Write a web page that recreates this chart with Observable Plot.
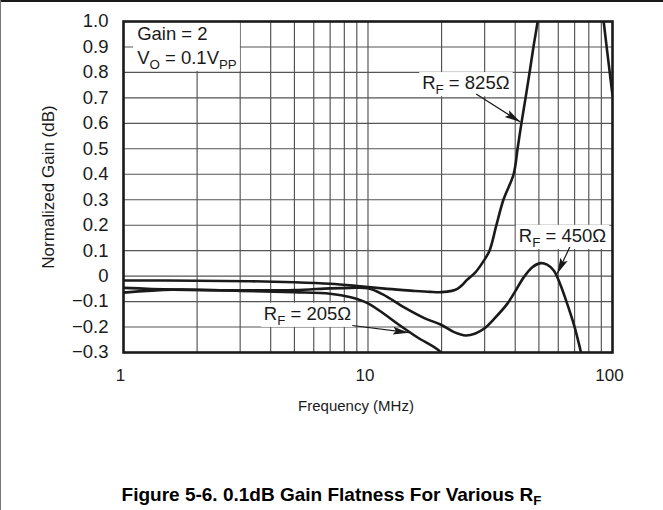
<!DOCTYPE html>
<html><head><meta charset="utf-8">
<script src="https://cdn.jsdelivr.net/npm/d3@7"></script>
<script src="https://cdn.jsdelivr.net/npm/@observablehq/plot@0.6"></script>
<style>
html,body{margin:0;padding:0;background:#fff;}
#wrap{position:relative;width:663px;height:510px;overflow:hidden;font-family:"Liberation Sans",Arial,Helvetica,sans-serif;}
#chart{position:absolute;left:0;top:0;}
#topline{position:absolute;left:0;top:0;width:663px;height:2px;background:#1a1a1a;}
#leftline{position:absolute;left:0;top:0;width:1px;height:510px;background:#777;}
#caption{position:absolute;left:0;width:663px;top:485px;text-align:center;font-weight:bold;font-size:19px;line-height:19px;color:#000;white-space:nowrap;}
#caption sub{font-size:0.7em;vertical-align:-0.28em;line-height:0;}
</style></head><body>
<div id="wrap"><div id="chart"></div><div id="topline"></div><div id="leftline"></div>
<div id="caption">Figure 5-6. 0.1dB Gain Flatness For Various R<sub>F</sub></div></div>
<script>
// ---- data (frequency in MHz, normalized gain in dB) ----
const freq825 = [1, 2, 3.3, 5, 7, 9.3, 12, 15, 18, 20, 22, 23.2, 24.3, 25.4, 27.5, 29.5, 31.4, 33.5, 35.8, 39.4, 40.9, 42.4, 44.1, 45.8, 47.5, 49.4, 55, 62, 70, 78, 86, 92, 100];
const gain825 = [-0.017, -0.018, -0.02, -0.024, -0.03, -0.04, -0.05, -0.057, -0.062, -0.063, -0.058, -0.05, -0.035, -0.015, 0.015, 0.055, 0.1, 0.2, 0.3, 0.4, 0.5, 0.6, 0.7, 0.8, 0.9, 1.0, 1.35, 1.65, 1.75, 1.6, 1.25, 1.0, 0.71];
const freq450 = [1, 1.6, 3, 5, 7, 8.5, 10, 11.5, 14, 17, 19.8, 22.5, 25.1, 27.5, 29.8, 33, 37.1, 40, 43.4, 47, 50.8, 54, 57.5, 61, 65.3, 70, 74, 77];
const gain450 = [-0.046, -0.053, -0.056, -0.055, -0.048, -0.046, -0.048, -0.072, -0.122, -0.165, -0.19, -0.22, -0.233, -0.225, -0.207, -0.165, -0.109, -0.06, -0.004, 0.035, 0.051, 0.045, 0.022, -0.03, -0.109, -0.2, -0.292, -0.36];
const freq205 = [1, 1.6, 3, 5, 7, 8.5, 9.9, 11.5, 13.2, 15.9, 19.5, 21];
const gain205 = [-0.065, -0.053, -0.058, -0.063, -0.069, -0.083, -0.105, -0.145, -0.187, -0.24, -0.292, -0.33];
const seriesNames = ["825", "450", "205"];

const yTicks = [-0.3, -0.2, -0.1, 0, 0.1, 0.2, 0.3, 0.4, 0.5, 0.6, 0.7, 0.8, 0.9, 1.0];
const xTickLabels = [1, 10, 100];
const xGrid = [2, 3, 4, 5, 6, 7, 8, 9, 10, 20, 30, 40, 50, 60, 70, 80, 90];

const xTitle = "Frequency (MHz)";
const yTitle = "Normalized Gain (dB)";

// annotation texts (anchor point in data coordinates), "_{..}" marks a subscript
const labelText = ["Gain = 2", "V_{O} = 0.1V_{PP}", "R_{F} = 825Ω", "R_{F} = 450Ω", "R_{F} = 205Ω"];
const labelFreq = [1.137, 1.137, 16.66, 41.4, 3.75];
const labelGain = [0.949, 0.857, 0.758, 0.158, -0.148];
const labelBox  = ["gain", "gain", "825", "450", "205"];

// annotation arrows: tail -> head, data coordinates
const arrowF1 = [27.7, 66.9, 8.62];
const arrowG1 = [0.715, 0.114, -0.194];
const arrowF2 = [42.0, 59.4, 14.7];
const arrowG2 = [0.605, 0.009, -0.222];

// ---- build tables ----
const rows = [];
[[freq825, gain825], [freq450, gain450], [freq205, gain205]].forEach(([fs, gs], k) => {
  fs.forEach((f, i) => rows.push({rf: seriesNames[k], f, g: gs[i]}));
});
const labels = labelText.map((t, i) => ({text: t, f: labelFreq[i], g: labelGain[i], box: labelBox[i]}));
const arrows = arrowF1.map((f1, i) => ({f1, g1: arrowG1[i], f2: arrowF2[i], g2: arrowG2[i]}));

const ink = "#1a1a1a";
const font = '"Liberation Sans", Arial, Helvetica, sans-serif';
const fmtY = d => d === 0 ? "0" : (d < 0 ? "\u2212" : "") + Math.abs(d).toFixed(1);
const annFs = 18.5;

const chart = Plot.plot({
  width: 663, height: 440,
  marginLeft: 123, marginRight: 51, marginTop: 21, marginBottom: 88,
  style: {fontFamily: font, fontSize: "17px", color: ink, background: "white", overflow: "visible"},
  x: {type: "log", domain: [1, 100]},
  y: {domain: [-0.3, 1.0]},
  marks: [
    Plot.ruleX(xGrid, {stroke: "#4a4a4a", strokeWidth: 1.1}),
    Plot.ruleY(yTicks, {stroke: "#555", strokeWidth: 1.1}),
    Plot.axisX({ticks: xTickLabels, tickSize: 0, tickPadding: 16, tickFormat: d => String(d), label: null, fontSize: 17, fill: ink, dx: -3}),
    Plot.axisY({ticks: yTicks, tickSize: 0, tickPadding: 15, tickFormat: fmtY, label: null, fontSize: 18.5, fill: ink}),
    Plot.text([xTitle], {frameAnchor: "bottom", dy: 54, dx: -12, text: d => d, fontSize: 15, fill: ink, lineAnchor: "middle", textAnchor: "middle"}),
    Plot.text([yTitle], {frameAnchor: "left", dx: -75, rotate: -90, text: d => d, fontSize: 17, fill: ink, textAnchor: "middle", lineAnchor: "middle"}),
    Plot.text(labels, {x: "f", y: "g", text: "text", textAnchor: "start", lineAnchor: "middle", fontSize: annFs, fill: ink}),
    Plot.line(rows, {x: "f", y: "g", z: "rf", curve: "catmull-rom", stroke: ink, strokeWidth: 2.6, clip: true}),
    Plot.link(arrows, {x1: "f1", y1: "g1", x2: "f2", y2: "g2", stroke: ink, strokeWidth: 1.2}),
    Plot.frame({stroke: ink, strokeWidth: 2.6})
  ]
});
document.getElementById("chart").appendChild(chart);

// ---- post-processing: subscripts, white label boxes, filled arrowheads ----
const NS = "http://www.w3.org/2000/svg";
const subF = annFs * 0.72, shift = annFs * 0.28;
function setRich(t, s) {
  while (t.firstChild) t.removeChild(t.firstChild);
  const parts = s.split(/(_\{[^}]*\})/).filter(p => p);
  let inSub = false;
  for (const p of parts) {
    const ts = document.createElementNS(NS, "tspan");
    if (p.startsWith("_{")) {
      ts.textContent = p.slice(2, -1);
      ts.setAttribute("font-size", subF);
      ts.setAttribute("dy", shift);
      inSub = true;
    } else {
      ts.textContent = p;
      if (inSub) { ts.setAttribute("dy", -shift); inSub = false; }
    }
    t.appendChild(ts);
  }
}
const labelEls = [];
chart.querySelectorAll("text").forEach(t => {
  const idx = labelText.indexOf(t.textContent);
  if (idx >= 0) {
    labelEls.push({el: t, box: labelBox[idx]});
    setRich(t, labelText[idx]);
  }
});
const groups = {};
labelEls.forEach(({el, box}) => (groups[box] = groups[box] || []).push(el));
const sr = chart.getBoundingClientRect();
Object.entries(groups).forEach(([key, els]) => {
  let x0 = Infinity, y0 = Infinity, x1 = -Infinity, y1 = -Infinity;
  els.forEach(e => {
    const b = e.getBoundingClientRect();
    x0 = Math.min(x0, b.left - sr.left); y0 = Math.min(y0, b.top - sr.top);
    x1 = Math.max(x1, b.right - sr.left); y1 = Math.max(y1, b.bottom - sr.top);
  });
  const padL = key === "gain" ? 4 : 3, padR = 3;
  const padT = key === "gain" ? 2 : 0, padB = -1;
  const r = document.createElementNS(NS, "rect");
  r.setAttribute("x", x0 - padL); r.setAttribute("y", y0 - padT);
  r.setAttribute("width", x1 - x0 + padL + padR); r.setAttribute("height", y1 - y0 + padT + padB);
  r.setAttribute("fill", "white");
  const g = els[0].parentNode;
  g.parentNode.insertBefore(r, g);
});
const defs = document.createElementNS(NS, "defs");
defs.innerHTML = '<marker id="ah" markerUnits="userSpaceOnUse" markerWidth="18" markerHeight="10" refX="16" refY="5" orient="auto"><path d="M0,1 L16,5 L0,9 L3,5 Z" fill="' + ink + '"/></marker>';
chart.insertBefore(defs, chart.firstChild);
chart.querySelectorAll('g[aria-label="link"] path').forEach(p => p.setAttribute("marker-end", "url(#ah)"));
</script>
</body></html>
